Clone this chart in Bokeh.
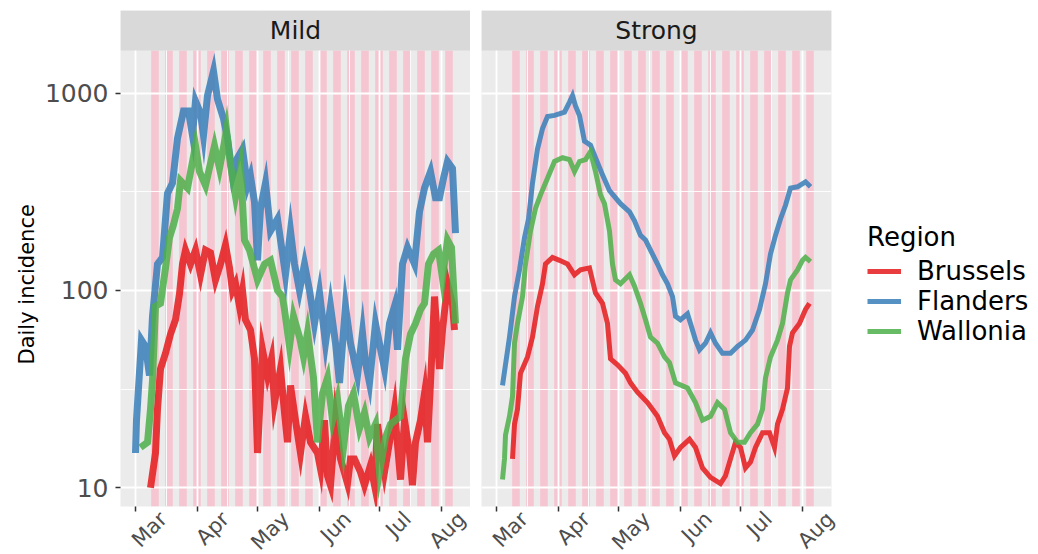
import math
import pandas as pd
from bokeh.plotting import figure
from bokeh.layouts import row
from bokeh.models import (FixedTicker, Legend, LegendItem, Range1d, Title,
                          DatetimeTickFormatter, PrintfTickFormatter)
from bokeh.core.properties import value
from bokeh.embed import file_html
from bokeh.resources import INLINE

# ---------------- data ----------------
START = pd.Timestamp("2020-03-01")
panels = ["Mild", "Strong"]
regions = ["Brussels", "Flanders", "Wallonia"]
region_colors = ["#E41A1C", "#377EB8", "#4DAF4A"]
month_labels = ["Mar", "Apr", "May", "Jun", "Jul", "Aug"]
month_starts = ["2020-03-01", "2020-04-01", "2020-05-01",
                "2020-06-01", "2020-07-01", "2020-08-01"]
y_ticks = [10, 100, 1000]
y_minor_ticks = [31.62, 316.2, 3162.0]
y_title = "Daily incidence"
legend_title = "Region"

# weekly shaded bands
band_first = "2020-03-08 20:00"
band_len_days = 3.8
band_count = 22

# (days since 1 March, daily incidence)
mild_brussels = [(7.5, 10), (10, 15), (11, 25), (12.5, 40), (15, 48), (17.5, 60), (20, 71),
                 (22, 96), (23.5, 136), (25, 160), (27.5, 136), (30, 160), (32.5, 120), (35, 160),
                 (37.5, 155), (40, 113), (42.5, 136), (45, 170), (47, 130), (48.5, 100), (50, 108),
                 (52, 83), (53.5, 100), (55, 71), (57.5, 63), (59.5, 45), (61, 15), (63.5, 50),
                 (66, 37), (68, 45), (69.5, 27), (72.5, 40), (74.5, 24), (76, 17), (77.5, 33),
                 (80, 22), (82.5, 15), (85, 23), (87.5, 17), (91, 15), (92.5, 12.5), (94.5, 22),
                 (96, 11.5), (97.5, 10.3), (100, 22), (102.5, 14), (106, 10.5), (107.5, 14),
                 (109.5, 14), (112.5, 12), (114.5, 10.3), (117.5, 13), (119.5, 10.3), (121, 21),
                 (124.5, 12), (127, 17), (129.5, 25), (132.5, 11), (134.5, 22), (137, 15),
                 (138.5, 10.3), (140, 17), (142.5, 22), (144.5, 30), (146, 17), (147.5, 34),
                 (149.5, 93), (152, 40), (153.5, 63), (156, 108), (158.5, 85), (159.5, 63)]
mild_flanders = [(0, 15), (0.5, 22), (3, 56), (5, 52), (7, 37), (8.5, 74), (11, 136), (13.5, 147),
                 (16, 310), (18.5, 350), (21, 590), (24, 810), (26.5, 810), (28.5, 610), (30, 910),
                 (32.5, 790), (34, 610), (36, 970), (39, 1290), (41, 930), (44, 740), (46, 590),
                 (48.5, 380), (51, 470), (53.5, 520), (56, 340), (57.5, 380), (59.5, 280), (61, 142),
                 (62.5, 260), (65, 350), (67.5, 200), (71, 230), (75, 120), (77.5, 200), (79.5, 136),
                 (82, 100), (84.5, 136), (87, 100), (89.5, 68), (92, 97), (95, 54), (97.5, 83),
                 (100, 54), (102, 34), (105, 83), (107.5, 54), (111, 37), (113.5, 61), (115, 43),
                 (117, 34), (120, 68), (124.5, 40), (127, 68), (129.5, 83), (131, 50), (133.5, 136),
                 (136, 165), (139.5, 136), (142, 250), (144.5, 330), (147.5, 400), (150, 295),
                 (152, 295), (154, 370), (156, 450), (158.5, 415), (160, 195)]
mild_wallonia = [(2.5, 16), (6, 17), (7.5, 25), (8.5, 35), (10, 83), (12.5, 86), (15, 130),
                 (17, 185), (19, 215), (21, 260), (22.5, 360), (26, 330), (30, 540), (32, 400),
                 (35, 340), (39.5, 540), (42, 415), (44.5, 565), (45.5, 650), (47.5, 430), (50, 300),
                 (52.5, 415), (53.5, 280), (54.5, 180), (57, 160), (61, 113), (64.5, 136),
                 (67.5, 142), (71, 100), (73.5, 93), (74.5, 80), (77, 52), (79, 74), (82, 58),
                 (84, 46), (86, 61), (89, 36), (91, 17), (93.5, 30), (96, 36), (98.5, 22), (101, 28),
                 (104, 16), (106.5, 26), (109, 30), (112, 20), (114.5, 24), (117, 18), (120, 21),
                 (122, 12), (125, 18), (127.5, 21), (130, 22), (132.5, 23), (135, 45), (137.5, 60),
                 (140, 68), (142.5, 80), (144.5, 86), (146.5, 136), (149, 153), (151.5, 160),
                 (153.5, 115), (156, 180), (158, 165), (160, 68)]

strong_brussels = [(8, 14), (9, 21), (10.5, 25), (12, 38), (15.5, 46), (18, 58), (20.5, 83),
                   (23, 108), (24.5, 136), (28, 147), (31.5, 142), (35.5, 136), (39, 120), (42, 127),
                   (46.5, 130), (49.5, 97), (53, 86), (55.5, 68), (57, 45), (60.5, 42), (64.5, 38),
                   (67, 34), (70.5, 30.5), (75.5, 27), (80.5, 23), (84, 19), (86.5, 17.6), (89, 14.5),
                   (92, 16), (96.5, 17.6), (99.5, 16), (103, 12.6), (107, 11.3), (112, 10.5),
                   (114.5, 11.5), (117, 14), (119.5, 17), (122, 16), (124.5, 12.6), (127, 13.5),
                   (129.5, 16), (133, 19), (136.5, 19), (139, 16), (140.5, 21), (143, 25),
                   (145.5, 32), (146.5, 52), (148, 61), (151.5, 68), (154.5, 80), (156.5, 86)]
strong_flanders = [(3, 33), (6.5, 58), (9, 93), (11.5, 127), (14, 185), (16, 230), (18, 350),
                   (20.5, 520), (23, 660), (25.5, 760), (29, 770), (34, 800), (36.5, 900), (38, 970),
                   (39.5, 860), (41.5, 770), (44, 570), (47, 545), (49.5, 470), (53, 385),
                   (56.5, 320), (62, 275), (66.5, 250), (69, 225), (72, 190), (74.5, 180), (77, 160),
                   (80.5, 136), (83, 120), (85.5, 108), (88, 93), (89.5, 74), (92, 71), (95.5, 76),
                   (97, 68), (99.5, 56), (101.5, 50), (104.5, 54), (107, 61), (109.5, 54), (113, 48),
                   (117, 48), (120.5, 52), (124.5, 56), (128, 63), (131.5, 80), (134.5, 108),
                   (137, 153), (139.5, 190), (142, 230), (144.5, 270), (147, 330), (150.5, 335),
                   (154.5, 355), (157, 335)]
strong_wallonia = [(3, 11), (4, 14), (4.5, 18.5), (6.5, 23), (8, 29), (9, 54), (10.5, 68),
                   (13, 93), (14.5, 136), (17, 200), (19.5, 260), (22, 305), (25.5, 370), (29, 450),
                   (33, 470), (36.5, 460), (39, 400), (41.5, 450), (44.5, 460), (47, 505),
                   (49.5, 400), (52, 305), (54, 275), (56.5, 200), (58, 136), (59.5, 113), (62, 108),
                   (66.5, 120), (69, 105), (72, 86), (74.5, 71), (77, 58), (80.5, 54), (84, 46),
                   (86.5, 43), (89.5, 34), (95.5, 32), (99.5, 27), (103, 22), (107, 23), (110.5, 27),
                   (114, 25), (117, 19), (120.5, 17), (124, 17), (127, 19), (130.5, 21), (133, 25),
                   (134.5, 36), (137, 46), (140.5, 56), (143, 68), (145.5, 97), (147, 113),
                   (150.5, 127), (153, 142), (154.5, 147), (157, 140)]

panel_series = {
    "Mild": [mild_brussels, mild_flanders, mild_wallonia],
    "Strong": [strong_brussels, strong_flanders, strong_wallonia],
}
panel_line_width = {"Mild": 7, "Strong": 5}

# ---------------- layout constants ----------------
FONT = "DejaVu Sans"
FRAME_W = 350
FRAME_H = 496
STRIP_PX = 40
Y_LO_EXP = 0.905
PANEL_TOP_EXP = 3.2155
px_per_dec = (FRAME_H - STRIP_PX) / (PANEL_TOP_EXP - Y_LO_EXP)
Y_TOP_EXP = PANEL_TOP_EXP + STRIP_PX / px_per_dec
y_lo, panel_top, y_top = 10 ** Y_LO_EXP, 10 ** PANEL_TOP_EXP, 10 ** Y_TOP_EXP

x_lo = START - pd.Timedelta(days=7.5)
x_hi = START + pd.Timedelta(days=167.5)
LABEL_SHIFT_DAYS = 14   # ggplot centres its rotated labels on the tick


def to_dt(days):
    return [START + pd.Timedelta(days=d) for d in days]


def ms(ts):
    return pd.Timestamp(ts).value / 1e6


month_ms = [ms(m) for m in month_starts]
label_ms = [ms(pd.Timestamp(m) + pd.Timedelta(days=LABEL_SHIFT_DAYS)) for m in month_starts]
minor_ms = [month_ms[0] - (month_ms[1] - month_ms[0]) / 2]
minor_ms += [(a + b) / 2 for a, b in zip(month_ms[:-1], month_ms[1:])]
minor_ms += [month_ms[-1] + (month_ms[-1] - month_ms[-2]) / 2]

b0 = pd.Timestamp(band_first)
band_left = [b0 + pd.Timedelta(days=7 * k) for k in range(band_count)]
band_right = [b + pd.Timedelta(days=band_len_days) for b in band_left]


def make_panel(name, first):
    p = figure(x_axis_type="datetime", y_axis_type="log",
               x_range=Range1d(x_lo, x_hi), y_range=Range1d(y_lo, y_top),
               frame_width=FRAME_W, frame_height=FRAME_H,
               min_border_top=10, min_border_bottom=0,
               min_border_left=120 if first else 11,
               min_border_right=0 if first else 190,
               y_axis_location="left" if first else None,
               toolbar_location=None, output_backend="svg")
    p.background_fill_color = "#EBEBEB"
    p.border_fill_color = "white"
    p.outline_line_color = None

    # grids
    p.xgrid.ticker = FixedTicker(ticks=month_ms, minor_ticks=minor_ms)
    p.ygrid.ticker = FixedTicker(ticks=y_ticks, minor_ticks=y_minor_ticks)
    for g in (p.xgrid, p.ygrid):
        g.grid_line_color = "white"
        g.grid_line_width = 1.8
        g.minor_grid_line_color = "white"
        g.minor_grid_line_width = 0.9

    # weekly shaded bands (beneath grid)
    p.quad(left=band_left, right=band_right, bottom=[y_lo] * band_count,
           top=[panel_top] * band_count, fill_color="#F5C6D2", line_color=None,
           level="image")

    # series
    rends = []
    for reg, col, pairs in zip(regions, region_colors, panel_series[name]):
        d = [a for a, _ in pairs]
        v = [b for _, b in pairs]
        r = p.line(x=to_dt(d), y=v, line_color=col, line_width=panel_line_width[name],
                   line_alpha=0.85, line_join="miter")
        rends.append(r)

    # facet strip
    p.quad(left=[x_lo], right=[x_hi], bottom=[panel_top], top=[y_top],
           fill_color="#D9D9D9", line_color=None)
    p.text(x=[x_lo + (x_hi - x_lo) / 2], y=[math.sqrt(panel_top * y_top)], text=[name],
           text_align="center", text_baseline="middle", text_font=value(FONT),
           text_font_size="25px", text_color="#1A1A1A")

    # x axis: tick marks (minor ticks) at month starts, month names rotated
    # 45 degrees and centred under each tick like ggplot does
    xa = p.xaxis[0]
    xa.ticker = FixedTicker(ticks=label_ms, minor_ticks=month_ms)
    xa.formatter = DatetimeTickFormatter(days="%b", months="%b", years="%b")
    xa.major_label_orientation = math.pi / 4
    xa.axis_line_color = None
    xa.major_tick_line_color = None
    xa.major_tick_out = 0
    xa.major_tick_in = 0
    xa.minor_tick_line_color = "#333333"
    xa.minor_tick_line_width = 1.5
    xa.minor_tick_out = 5
    xa.minor_tick_in = 0
    xa.major_label_standoff = 4
    xa.major_label_text_font = FONT
    xa.major_label_text_font_size = "21px"
    xa.major_label_text_color = "#4D4D4D"

    if first:
        ya = p.yaxis[0]
        ya.ticker = FixedTicker(ticks=y_ticks)
        ya.formatter = PrintfTickFormatter(format="%d")
        ya.axis_line_color = None
        ya.major_tick_line_color = "#333333"
        ya.major_tick_line_width = 1.5
        ya.major_tick_out = 5
        ya.major_tick_in = 0
        ya.minor_tick_line_color = None
        ya.major_label_standoff = 7
        ya.major_label_text_font = FONT
        ya.major_label_text_font_size = "25px"
        ya.major_label_text_color = "#4D4D4D"
        # y title placed like ggplot: centred on the panel (below the strip)
        t = Title(text=y_title, align="left", offset=142, standoff=6,
                  text_font=FONT, text_font_size="21px", text_font_style="normal",
                  text_color="black")
        p.add_layout(t, "left")
    return p, rends


p1, _ = make_panel("Mild", True)
p2, rends2 = make_panel("Strong", False)

legend = Legend(items=[LegendItem(label=reg, renderers=[r]) for reg, r in zip(regions, rends2)],
                title=legend_title, location=(36, 160), orientation="vertical",
                margin=0, padding=0, spacing=0,
                glyph_width=34, glyph_height=30, label_height=30, label_standoff=16,
                title_standoff=4, border_line_color=None, background_fill_alpha=0)
legend.title_text_font = FONT
legend.title_text_font_size = "26px"
legend.title_text_font_style = "normal"
legend.title_text_color = "black"
legend.label_text_font = FONT
legend.label_text_font_size = "26px"
legend.label_text_color = "black"
p2.add_layout(legend, "right")

layout = row(p1, p2, spacing=0)
open("out.html", "w").write(file_html(layout, INLINE))
